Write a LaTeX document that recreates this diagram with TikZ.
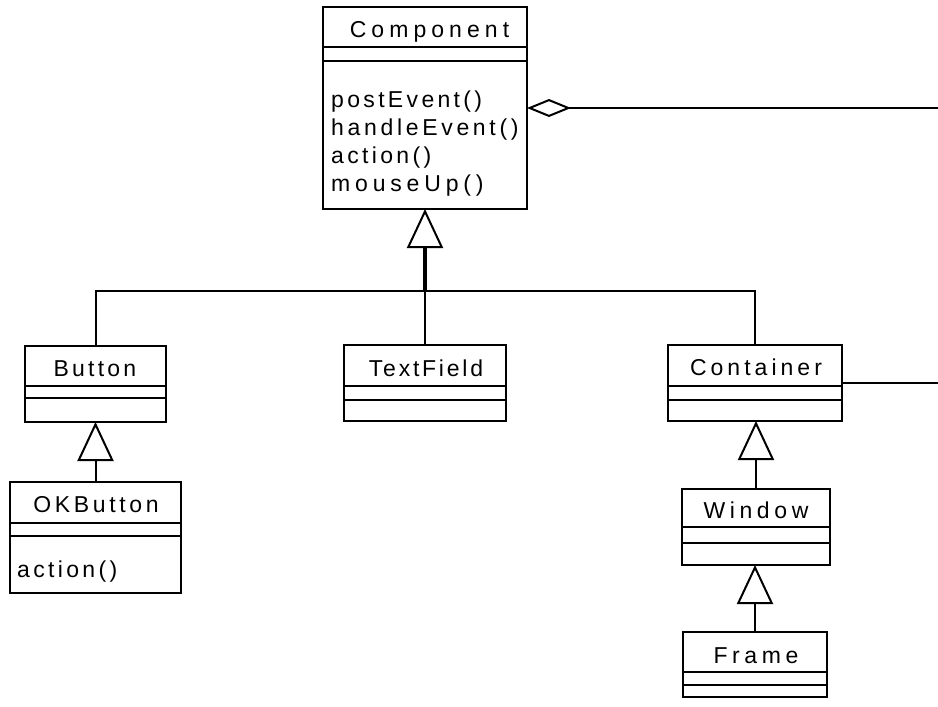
\documentclass[tikz,border=0pt]{standalone}
\usepackage{fontspec}
\newfontfamily\umlfont{Liberation Sans}
\usetikzlibrary{arrows.meta}
\tikzset{
 cls/.style={draw, line width=2.5pt, inner sep=0pt, outer sep=0pt, anchor=north west, fill=white},
 lbl/.style={font=\umlfont\fontsize{23}{28}\selectfont\addfontfeature{LetterSpace=#1}, inner sep=0pt, anchor=base},
 lbl/.default=16,
 mth/.style={lbl=#1, anchor=base west},
 mth/.default=15,
 sep/.style={line width=1.6pt},
 conn/.style={line width=2pt},
 inh/.style={conn, -{Triangle[open, length=39pt, width=36pt, line width=2pt]}},
 aggr/.style={conn, -{Diamond[open, length=44pt, width=18pt, line width=2pt]}},
}
\begin{document}
\begin{tikzpicture}[x=1pt,y=-1pt]
\useasboundingbox (0,0) rectangle (938,707);
% classes
\node[cls, minimum width=204pt, minimum height=202pt] (comp) at (323,7) {};
\node[cls, minimum width=141pt, minimum height=76pt] (button) at (25,346) {};
\node[cls, minimum width=171pt, minimum height=111pt] (okbtn) at (10,482) {};
\node[cls, minimum width=162pt, minimum height=76pt] (textfield) at (344,345) {};
\node[cls, minimum width=174pt, minimum height=76pt] (container) at (668,345) {};
\node[cls, minimum width=148pt, minimum height=76pt] (window) at (682,489) {};
\node[cls, minimum width=144pt, minimum height=65pt] (frame) at (683,632) {};
% compartments
\draw[sep] (comp.west |- 0,47) -- (comp.east |- 0,47) (comp.west |- 0,61) -- (comp.east |- 0,61);
\draw[sep] (button.west |- 0,386) -- (button.east |- 0,386) (button.west |- 0,398) -- (button.east |- 0,398);
\draw[sep] (okbtn.west |- 0,523) -- (okbtn.east |- 0,523) (okbtn.west |- 0,536) -- (okbtn.east |- 0,536);
\draw[sep] (textfield.west |- 0,386) -- (textfield.east |- 0,386) (textfield.west |- 0,400) -- (textfield.east |- 0,400);
\draw[sep] (container.west |- 0,386) -- (container.east |- 0,386) (container.west |- 0,400) -- (container.east |- 0,400);
\draw[sep] (window.west |- 0,527) -- (window.east |- 0,527) (window.west |- 0,543) -- (window.east |- 0,543);
\draw[sep] (frame.west |- 0,672) -- (frame.east |- 0,672) (frame.west |- 0,685) -- (frame.east |- 0,685);
% labels
\node[lbl=22] (tcomp) at (429.5,37) {Component};
\node[mth=14.5] (m1) at (331,107) {postEvent()};
\node[mth=16] (m2) at (331,135) {handleEvent()};
\node[mth=14.5] (m3) at (331,163) {action()};
\node[mth=21] (m4) at (331,191) {mouseUp()};
\node[lbl=14] (tbutton) at (95,376) {Button};
\node[lbl=16] (tok) at (96,512) {OKButton};
\node[mth=14.5] (mok) at (17,577) {action()};
\node[lbl=12] (ttf) at (426,376) {TextField};
\node[lbl=17.5] (tcont) at (756,375) {Container};
\node[lbl=20] (twin) at (756,518) {Window};
\node[lbl=20] (tframe) at (756,663) {Frame};
% connectors
\coordinate (j) at (comp.south |- 0,291);
\draw[conn] (button.north) |- (j) -| (container.north);
\draw[conn] (textfield.north) -- (j);
\draw[inh, line width=3.4pt] (j) -- (comp.south);
\draw[inh] (okbtn.north) -- (okbtn.north |- button.south);
\draw[inh] (window.north) -- (window.north |- container.south);
\draw[inh] (frame.north) -- (frame.north |- window.south);
\coordinate (aggR) at (940,108);
\draw[aggr] (aggR) -- (comp.east);
\coordinate (contR) at (940,383);
\draw[conn] (container.east) -- (contR);
\end{tikzpicture}
\end{document}
